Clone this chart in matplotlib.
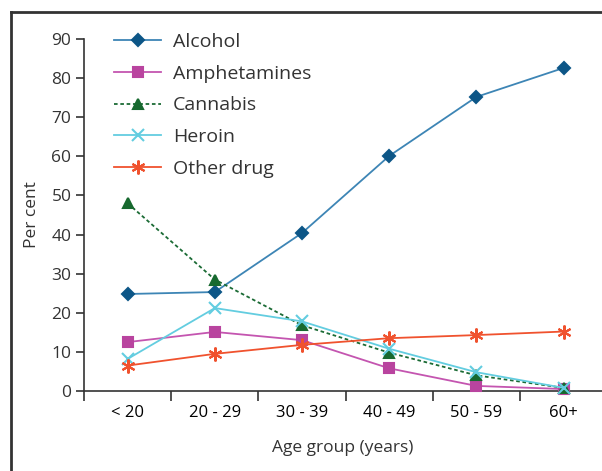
import matplotlib
matplotlib.use("Agg")
import matplotlib.pyplot as plt
from matplotlib.lines import Line2D
import numpy as np

plt.rcParams["font.family"] = ["Open Sans", "DejaVu Sans"]
plt.rcParams["font.size"] = 12

# ----------------------------------------------------------
# Data (per cent by age group)
# ----------------------------------------------------------
AGE_GROUPS = ["< 20", "20 - 29", "30 - 39", "40 - 49", "50 - 59", "60+"]

ALCOHOL = [24.8, 25.3, 40.4, 60.1, 75.2, 82.6]
AMPHETAMINES = [12.5, 15.1, 13.0, 5.8, 1.3, 0.5]
CANNABIS = [48.0, 28.5, 16.8, 9.8, 4.0, 0.8]
HEROIN = [8.2, 21.2, 17.8, 10.8, 4.8, 0.8]
OTHER_DRUG = [6.5, 9.5, 11.8, 13.5, 14.3, 15.2]

SERIES = [
    ("Alcohol", ALCOHOL, "#3d85b5", "#0d5687", "D", "-", 6),
    ("Amphetamines", AMPHETAMINES, "#c455b0", "#b9449f", "s", "-", 7.5),
    ("Cannabis", CANNABIS, "#1b6b35", "#17692f", "^", (0, (2, 1.5)), 7.5),
    ("Heroin", HEROIN, "#63cde0", "#63cde0", "x", "-", 8),
    ("Other drug", OTHER_DRUG, "#f0522e", "#f0522e", (6, 2, 0), "-", 10),
]


def main():
    fig = plt.figure(figsize=(6.02, 4.71), dpi=100)
    ax = fig.add_axes([84 / 602, 1 - 391 / 471, 1 - 84 / 602, (391 - 39) / 471])

    x = np.arange(len(AGE_GROUPS))

    for label, vals, lc, mc, marker, ls, ms in SERIES:
        ax.plot(
            x, vals,
            color=lc, linestyle=ls, linewidth=1.3,
            marker=marker, markersize=ms,
            markerfacecolor=mc, markeredgecolor=mc, markeredgewidth=1.5,
            label=label, clip_on=False, zorder=3,
        )

    ax.set_xlim(-0.5, 5.44)
    ax.set_ylim(0, 90)
    ax.set_yticks(np.arange(0, 91, 10))

    ax.set_xticks(np.arange(-0.5, 5.0, 1.0))
    ax.set_xticklabels([])
    ax.set_xticks(x, minor=True)
    ax.set_xticklabels(AGE_GROUPS, minor=True)
    ax.tick_params(axis="x", which="minor", length=0, pad=10)
    ax.tick_params(axis="x", which="major", length=7, width=1.2, direction="out")
    ax.tick_params(axis="y", length=6, width=1.2, direction="out", pad=3)
    ax.tick_params(labelsize=12.5, colors="#333333")

    for s in ("top", "right"):
        ax.spines[s].set_visible(False)
    for s in ("left", "bottom"):
        ax.spines[s].set_linewidth(1.2)
        ax.spines[s].set_color("#333333")

    ax.set_xlabel("Age group (years)", fontsize=12.5, color="#333333", labelpad=14)
    ax.set_ylabel("Per cent", fontsize=12.5, color="#333333", labelpad=8)

    ax.legend(
        loc="upper left",
        bbox_to_anchor=(0.025, 1.066),
        frameon=False,
        handlelength=2.4,
        handletextpad=0.6,
        labelspacing=0.7,
        fontsize=14,
        labelcolor="#333333",
    )

    # Black frame (top and left visible)
    fig.add_artist(Line2D([11 / 602, 1.0], [1 - 12 / 471] * 2,
                          color="#333333", linewidth=2, transform=fig.transFigure))
    fig.add_artist(Line2D([11 / 602] * 2, [0.0, 1 - 12 / 471],
                          color="#333333", linewidth=2, transform=fig.transFigure))

    fig.savefig("out.png", dpi=100)


if __name__ == "__main__":
    main()
